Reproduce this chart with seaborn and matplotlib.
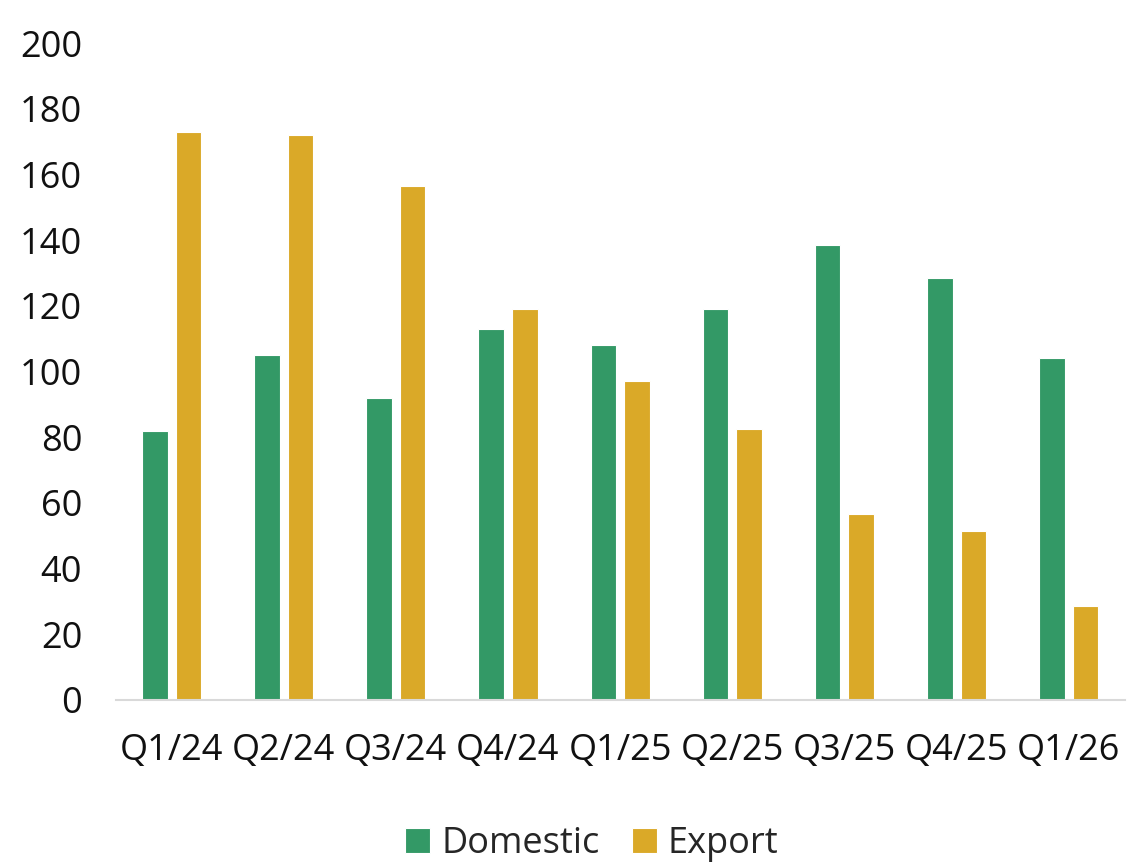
import numpy as np
import pandas as pd
import matplotlib
matplotlib.use("Agg")
from matplotlib import pyplot as plt
import seaborn as sns

quarters = ['Q1/24', 'Q2/24', 'Q3/24', 'Q4/24', 'Q1/25', 'Q2/25', 'Q3/25', 'Q4/25', 'Q1/26']
domestic = [82, 105, 92, 113, 108, 119, 138.5, 128.5, 104]
export = [173, 172, 156.5, 119, 97, 82.5, 56.5, 51.5, 28.5]
yticks = [0, 20, 40, 60, 80, 100, 120, 140, 160, 180, 200]

df = pd.DataFrame({'Quarter': quarters, 'Domestic': domestic, 'Export': export})
df = df.melt(id_vars='Quarter', var_name='Type', value_name='Value')

sns.set_theme(style='white')
plt.rcParams['font.family'] = ['Open Sans', 'DejaVu Sans']

fig = plt.figure(figsize=(11.27, 8.63), dpi=100)
ax = fig.add_axes([0.1025, 0.1889, 0.8955, 0.7611])

sns.barplot(data=df, x='Quarter', y='Value', hue='Type',
            palette={'Domestic': '#339966', 'Export': '#DAA928'},
            width=0.6, gap=0.24, edgecolor='white', linewidth=0.8,
            saturation=1, ax=ax)

ax.set_ylim(0, 200)
ax.set_xlim(-0.5, 8.5)
ax.set_yticks(yticks)
ax.set_xlabel('')
ax.set_ylabel('')
ax.tick_params(axis='both', length=0, labelsize=26, colors='#111111')
ax.tick_params(axis='y', pad=24)
ax.tick_params(axis='x', pad=24)
for side in ['left', 'right', 'top']:
    ax.spines[side].set_visible(False)
ax.spines['bottom'].set_color('#d9d9d9')
ax.spines['bottom'].set_linewidth(1.5)

ax.legend(loc='center', bbox_to_anchor=(0.472, -0.22), ncol=2, frameon=False,
          fontsize=26, handlelength=0.7, handleheight=0.7, handletextpad=0.3,
          columnspacing=0.9)

fig.savefig('out.png', dpi=100)
